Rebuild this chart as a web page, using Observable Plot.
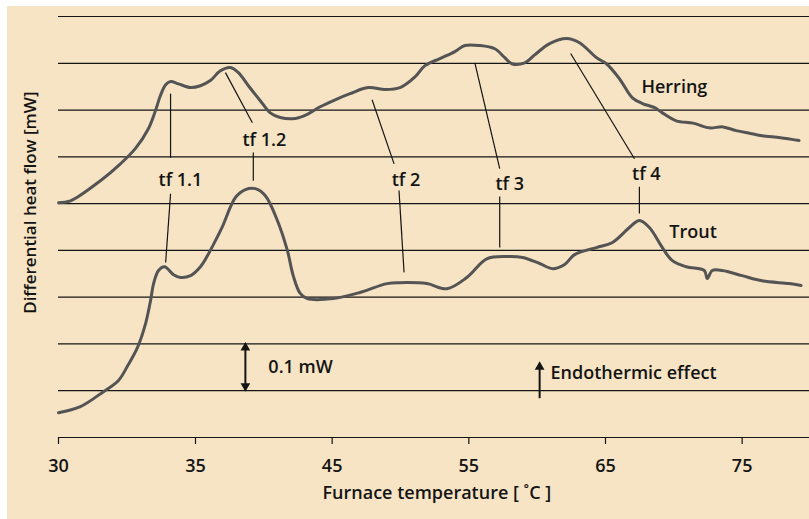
<!DOCTYPE html>
<html>
<head>
<meta charset="utf-8">
<script src="https://cdn.jsdelivr.net/npm/d3@7"></script>
<script src="https://cdn.jsdelivr.net/npm/@observablehq/plot@0.6"></script>
<style>
  html, body { margin: 0; padding: 0; background: #ffffff; }
  #bg { position: absolute; left: 7px; top: 6px; width: 802px; height: 513px; background: #f6e4c5; }
  #chart { position: absolute; left: 0; top: 0; }
</style>
</head>
<body>
<div id="bg"></div>
<div id="chart"></div>
<script>
// ---- data (temperature in °C, heat flow in mW, arbitrary offset) ----
const xTicks = [30, 35, 45, 55, 65, 75];
const gridValues = [0.1, 0.2, 0.3, 0.4, 0.5, 0.6, 0.7, 0.8, 0.9];

const herringT = [30.0, 30.44, 31.53, 32.26, 32.81, 33.28, 33.54, 33.72, 33.91, 34.09, 34.38, 34.82, 35.36, 36.09, 36.82, 37.55, 38.14, 38.87, 39.74, 40.47, 41.2, 42.3, 43.25, 44.12, 45.22, 46.31, 47.63, 48.87, 49.96, 51.06, 51.79, 52.88, 53.98, 54.71, 55.8, 56.9, 57.63, 58.14, 59.09, 59.82, 60.91, 62.15, 63.1, 64.34, 65.07, 66.02, 66.97, 67.7, 68.6, 69.16, 70.18, 71.4, 72.59, 73.6, 74.56, 75.6, 76.46, 77.8, 79.16];
const herringV = [0.502, 0.506, 0.549, 0.585, 0.618, 0.660, 0.699, 0.731, 0.754, 0.761, 0.756, 0.748, 0.752, 0.763, 0.784, 0.791, 0.780, 0.752, 0.720, 0.694, 0.684, 0.682, 0.692, 0.707, 0.722, 0.735, 0.748, 0.744, 0.748, 0.771, 0.795, 0.810, 0.825, 0.838, 0.838, 0.831, 0.812, 0.799, 0.801, 0.818, 0.842, 0.853, 0.844, 0.812, 0.799, 0.767, 0.726, 0.714, 0.705, 0.694, 0.677, 0.672, 0.662, 0.664, 0.656, 0.650, 0.645, 0.641, 0.635];

const troutT = [30.0, 30.8, 31.64, 32.19, 32.55, 32.88, 33.18, 33.36, 33.47, 33.65, 33.87, 34.2, 34.45, 34.82, 35.36, 35.88, 36.46, 36.97, 37.92, 38.65, 39.38, 40.11, 40.99, 41.72, 42.15, 42.66, 43.18, 45.07, 47.04, 49.01, 49.96, 51.93, 53.39, 54.85, 56.31, 57.77, 58.94, 60.18, 61.13, 62.01, 62.74, 64.34, 65.51, 66.75, 67.48, 68.21, 69.16, 69.89, 70.91, 72.23, 72.45, 72.81, 73.54, 75.0, 76.46, 78.43, 79.31];
const troutV = [0.053, 0.066, 0.098, 0.122, 0.156, 0.192, 0.244, 0.293, 0.329, 0.357, 0.365, 0.348, 0.342, 0.346, 0.365, 0.389, 0.421, 0.451, 0.513, 0.530, 0.532, 0.517, 0.464, 0.400, 0.346, 0.308, 0.297, 0.297, 0.310, 0.329, 0.331, 0.329, 0.318, 0.342, 0.382, 0.387, 0.385, 0.372, 0.361, 0.370, 0.391, 0.406, 0.417, 0.449, 0.464, 0.449, 0.406, 0.378, 0.365, 0.357, 0.340, 0.357, 0.357, 0.346, 0.335, 0.329, 0.325];

// transition labels
const tfLabels = ["tf 1.1", "tf 1.2", "tf 2", "tf 3", "tf 4"];
const tfLabelT = [34.45, 40.04, 50.4, 57.99, 67.99];
const tfLabelV = [0.551, 0.635, 0.551, 0.541, 0.562];

// leader lines (x1, y1, x2, y2)
const leaderT1 = [34.09, 34.09, 37.19, 39.23, 47.92, 49.89, 55.44, 57.26, 62.45, 67.48];
const leaderV1 = [0.735, 0.521, 0.780, 0.609, 0.722, 0.528, 0.801, 0.515, 0.821, 0.536];
const leaderT2 = [34.09, 33.91, 39.16, 39.23, 49.53, 50.26, 57.26, 57.26, 67.12, 67.48];
const leaderV2 = [0.598, 0.374, 0.673, 0.549, 0.585, 0.353, 0.575, 0.406, 0.596, 0.479];

// series labels and notes
const noteTexts = ["Herring", "Trout", "0.1 mW", "Endothermic effect"];
const noteT = [67.63, 69.67, 40.33, 60.98];
const noteV = [0.748, 0.438, 0.150, 0.137];

// scale bar (0.1 mW) and endothermic arrow
const scaleBarT = 38.65, scaleBarV1 = 0.103, scaleBarV2 = 0.199;
const endoT = 60.18, endoV1 = 0.083, endoV2 = 0.158;

// ---- build tables ----
const herring = herringT.map((t, i) => ({t, v: herringV[i]}));
const trout = troutT.map((t, i) => ({t, v: troutV[i]}));
const tfData = tfLabels.map((label, i) => ({label, t: tfLabelT[i], v: tfLabelV[i]}));
const leaders = leaderT1.map((t1, i) => ({t1, v1: leaderV1[i], t2: leaderT2[i], v2: leaderV2[i]}));
const notes = noteTexts.map((text, i) => ({text, t: noteT[i], v: noteV[i]}));
const vRules = [
  {t: scaleBarT, v1: scaleBarV1 + 0.008, v2: scaleBarV2 - 0.008},
  {t: endoT, v1: endoV1, v2: endoV2 - 0.008}
];
const heads = [
  {t: scaleBarT, v: scaleBarV2 - 0.007, rot: 0},
  {t: scaleBarT, v: scaleBarV1 + 0.007, rot: 180},
  {t: endoT, v: endoV2 - 0.007, rot: 0}
];

const ink = "#141414";
const font = "'Open Sans', sans-serif";

const chart = Plot.plot({
  width: 809,
  height: 519,
  marginLeft: 58,
  marginRight: 0,
  marginTop: 16,
  marginBottom: 82,
  style: {background: "transparent", fontFamily: font, color: ink, overflow: "visible"},
  x: {type: "linear", domain: [30, 35, 80], range: [58, 195, 810]},
  y: {domain: [0, 0.9], axis: null},
  marks: [
    Plot.ruleY(gridValues, {stroke: ink, strokeWidth: 1.2}),
    Plot.ruleY([0], {stroke: ink, strokeWidth: 1.2}),
    Plot.axisX({ticks: xTicks, tickSize: 7, tickPadding: 15, fontSize: 18, fontWeight: 600, label: null, tickFormat: d => String(d), stroke: ink, strokeWidth: 1.2}),
    Plot.line(herring, {x: "t", y: "v", stroke: "#545454", strokeWidth: 3, curve: "catmull-rom"}),
    Plot.line(trout, {x: "t", y: "v", stroke: "#545454", strokeWidth: 3, curve: "catmull-rom"}),
    Plot.link(leaders, {x1: "t1", y1: "v1", x2: "t2", y2: "v2", stroke: ink, strokeWidth: 1.2}),
    Plot.text(tfData, {x: "t", y: "v", text: "label", fontSize: 18, fontWeight: 600, fill: ink}),
    Plot.text(notes, {x: "t", y: "v", text: "text", textAnchor: "start", fontSize: 18, fontWeight: 600, fill: ink}),
    Plot.ruleX(vRules, {x: "t", y1: "v1", y2: "v2", stroke: ink, strokeWidth: 2}),
    Plot.dot(heads, {x: "t", y: "v", symbol: "triangle", r: 3.6, fill: ink, stroke: null, rotate: "rot"}),
    Plot.text(["Differential heat flow [mW]"], {frameAnchor: "left", textAnchor: "middle", y: [0.502], dx: -28, rotate: -90, fontSize: 17, fontWeight: 600, fill: ink}),
    Plot.text(["Furnace temperature [ \u02DAC ]"], {x: [52.66], frameAnchor: "bottom", dy: 61, fontSize: 18, fontWeight: 600, fill: ink})
  ]
});
document.getElementById("chart").appendChild(chart);
</script>
</body>
</html>
